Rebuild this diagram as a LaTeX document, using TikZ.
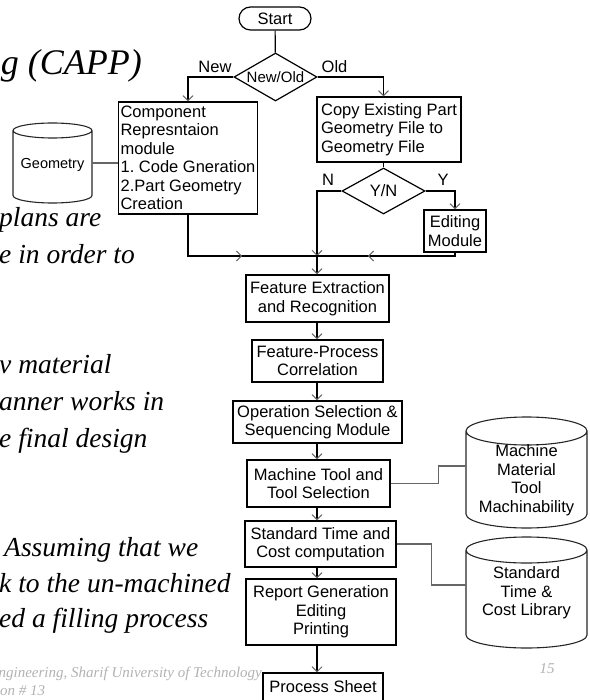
\documentclass[tikz,border=0pt]{standalone}
\usepackage{fontspec}
\setmainfont{Liberation Sans}
\newfontfamily\slidefont{Liberation Serif}
\usetikzlibrary{shapes.geometric,arrows.meta,decorations.markings}
\tikzset{
  box/.style = {draw, line width=1.2pt, inner sep=2pt,
                font=\fontsize{16.5}{18.5}\selectfont},
  decision/.style = {diamond, draw, line width=1.2pt, inner sep=0pt,
                aspect=1.75, font=\fontsize{15}{17}\selectfont},
  store/.style = {rectangle, inner sep=0pt, outer sep=0pt},
  can/.style = {line width=1.1pt, black!85},
  storetext/.style = {align=center, inner sep=0pt,
                font=\fontsize{16.5}{18.5}\selectfont},
  wire/.style = {line width=1.2pt},
  flow/.style = {wire, -{Straight Barb[length=5pt,width=10pt,line width=1pt,color=black!60]}},
  link/.style = {line width=1.2pt, gray!80!black},
  midarrow/.style = {postaction={decorate}, decoration={markings,
                mark=at position #1 with {\arrow{Straight Barb[length=5pt,width=10pt,line width=1pt,color=black!60]}}}},
  slide/.style = {anchor=base west, inner sep=0pt,
                font=\slidefont\itshape\fontsize{27.5}{31}\selectfont},
  foot/.style = {inner sep=0pt, text=gray!60,
                font=\slidefont\itshape\fontsize{15}{17}\selectfont},
  tag/.style = {inner sep=0pt, font=\fontsize{16.5}{18.5}\selectfont}
}
% cylinder outline round a store node: name, x radius, y radius
\newcommand{\drawcan}[3]{%
  \draw[can] ([yshift=-#3]#1.north west) -- ([yshift=#3]#1.south west)
    arc[start angle=180, end angle=360, x radius=#2, y radius=#3]
    -- ([yshift=-#3]#1.north east)
    arc[start angle=0, end angle=360, x radius=#2, y radius=#3];}
\begin{document}
\frenchspacing
\begin{tikzpicture}[x=1pt, y=-1pt]
	\useasboundingbox (0,0) rectangle (589,700);
	
	% Slide text (behind the chart)
	\node[slide, anchor=base east, font=\slidefont\itshape\fontsize{36}{40}\selectfont] (title) at (142,75) {g (CAPP)};
	\node[slide] (t1) at (-1,227) {plans are};
	\node[slide] (t2) at (-1,263) {e in order to};
	\node[slide] (t3) at (-1,373) {v material};
	\node[slide] (t4) at (-1,410) {anner works in};
	\node[slide] (t5) at (-1,447) {e final design};
	\node[slide] (t6) at (4,556) {Assuming that we};
	\node[slide] (t7) at (-1,592) {k to the un-machined};
	\node[slide] (t8) at (-1,627) {ed a filling process};
	\node[foot, anchor=base east] (f1) at (262,677) {ngineering, Sharif University of Technology};
	\node[foot, anchor=base west] (f2) at (0,695) {on \# 13};
	\node[foot] (pg) at (547,669) {15};
	
	% Top part
	\node[box, rounded corners=11.5pt, minimum width=72pt, minimum height=23pt] (start) at (275,18.5) {Start};
	\node[decision, minimum width=83pt, minimum height=48pt] (newold) at (275.5,77) {New/Old};
	\node[box, align=left, minimum width=138pt, minimum height=112pt] (comp) at (188,158) {Component\\Represntaion\\module\\1. Code Gneration\\2.Part Geometry\\Creation};
	\node[box, align=left, minimum width=144pt, minimum height=65pt] (copy) at (389,129.5) {Copy Existing Part\\Geometry File to\\Geometry File};
	\node[decision, font=\fontsize{16.5}{18}\selectfont, minimum width=83pt, minimum height=46pt] (yn) at (383.5,191) {Y/N};
	\node[box, align=center, minimum width=62pt, minimum height=42pt] (edit) at (455,231) {Editing\\Module};
	\node[store, minimum width=79pt, minimum height=80pt] (geo) at (52.5,163) {};
	\drawcan{geo}{39.5pt}{7.5pt}
	\node[storetext, font=\fontsize{14.5}{16}\selectfont] (geot) at (52.5,165) {Geometry};
	
	% Labels
	\node[tag] (lnew) at (215,67) {New};
	\node[tag] (lold) at (334.5,66.5) {Old};
	\node[tag] (lno) at (328,180) {N};
	\node[tag] (lyes) at (443,180) {Y};
	
	% Main chain
	\node[box, align=center, minimum width=143pt, minimum height=47pt] (fe) at (317.5,298.5) {Feature Extraction\\and Recognition};
	\node[box, align=center, minimum width=131pt, minimum height=42pt] (fp) at (317.5,361) {Feature-Process\\Correlation};
	\node[box, align=center, minimum width=169pt, minimum height=42pt] (ops) at (317.5,422) {Operation Selection \&\\Sequencing Module};
	\node[box, align=center, minimum width=143pt, minimum height=47pt] (mt) at (318.5,483.5) {Machine Tool and\\Tool Selection};
	\node[box, align=center, minimum width=151pt, minimum height=46pt] (st) at (320.5,544) {Standard Time and\\Cost computation};
	\node[box, align=center, minimum width=150pt, minimum height=66pt] (rep) at (321,612) {Report Generation\\Editing\\Printing};
	\node[box, minimum width=120pt, minimum height=28pt] (ps) at (323,687) {Process Sheet};
	
	% Libraries
	\node[store, minimum width=121pt, minimum height=111pt] (mdb) at (526.5,472.5) {};
	\drawcan{mdb}{60.5pt}{14pt}
	\node[storetext] (mdbt) at (526.5,480) {Machine\\Material\\Tool\\Machinability};
	\node[store, minimum width=121pt, minimum height=111pt] (sdb) at (526.5,592.5) {};
	\drawcan{sdb}{60.5pt}{13pt}
	\node[storetext] (sdbt) at (526.5,593) {Standard\\Time \&\\Cost Library};
	
	% Connectors
	\coordinate (join) at (317,256);
	\draw[wire] (start) -- (newold);
	\draw[flow] (newold.west) -| (comp.north);
	\draw[flow] (newold.east) -| (yn.north |- copy.north);
	\draw[wire] (copy.south -| yn.north) -- (yn.north);
	\draw[flow] (yn.west) -| (join);
	\draw[flow] (yn.east) -| (edit.north);
	\draw[wire, midarrow=0.56] (comp.south) |- (join);
	\draw[wire, midarrow=0.64] (edit.south) |- (join);
	\draw[flow] (join) -- (fe.north -| join);
	\draw[flow] (fe.south -| join) -- (fp.north -| join);
	\draw[flow] (fp.south -| join) -- (ops.north -| join);
	\draw[flow] (ops.south -| join) -- (mt.north -| join);
	\draw[flow] (mt.south -| join) -- (st.north -| join);
	\draw[flow] (st.south -| join) -- (rep.north -| join);
	\draw[flow] (rep.south -| join) -- (ps.north -| join);
	
	\draw[link] (geo.east) -- (geo.east -| comp.west);
	\draw[link] (mt.east) -- ++(48,0) |- ([yshift=6.5pt]mdb.west);
	\draw[link] (st.east) -- ++(35,0) |- ([yshift=7.5pt]sdb.west);
\end{tikzpicture}
\end{document}
